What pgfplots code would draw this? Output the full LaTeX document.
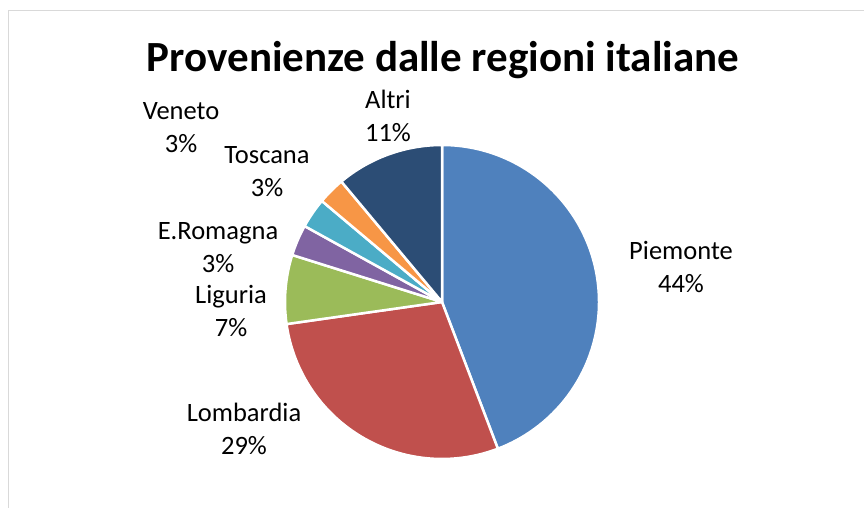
\documentclass[border=0pt]{standalone}
\usepackage{pgfplots}
\pgfplotsset{compat=1.18}
\usepackage{pgfplotstable}
\usepackage{fontspec}
\setmainfont{Carlito}
\definecolor{cPiemonte}{HTML}{4F81BD}
\definecolor{cLombardia}{HTML}{C0504D}
\definecolor{cLiguria}{HTML}{9BBB59}
\definecolor{cRomagna}{HTML}{8064A2}
\definecolor{cToscana}{HTML}{4BACC6}
\definecolor{cVeneto}{HTML}{F79646}
\definecolor{cAltri}{HTML}{2C4D75}
\definecolor{cBorder}{HTML}{D9D9D9}
\tikzset{lbl/.style={align=center,font=\fontsize{26.5}{33}\selectfont,text=black}}
% value = share; lx, ly = label position in pixels
\pgfplotstableread{
name value col lx ly
Piemonte 44.3 cPiemonte 681 267
Lombardia 28.6 cLombardia 244 429
Liguria 7.1 cLiguria 231 311
E.Romagna 3.2 cRomagna 218 248
Toscana 3.1 cToscana 267 172
Veneto 2.8 cVeneto 181 128
Altri 11.1 cAltri 388 116
}\pietable
\begin{document}
\begin{tikzpicture}
\useasboundingbox (0,0) rectangle (864pt,507pt);
\fill[white] (0,0) rectangle (864pt,507pt);
\draw[cBorder,line width=1pt] (8pt,-10pt) -- (8pt,496pt) -- (880pt,496pt);
\node[font=\fontsize{43}{50}\selectfont\bfseries,anchor=base] at (443pt,435pt) {Provenienze dalle regioni italiane};
% build the pie code
\pgfplotstablegetrowsof{\pietable}
\pgfmathtruncatemacro\nrows{\pgfplotsretval-1}
\gdef\pietotal{0}
\foreach \i in {0,...,\nrows}{%
  \pgfplotstablegetelem{\i}{value}\of\pietable
  \pgfmathsetmacro\t{\pietotal+\pgfplotsretval}%
  \xdef\pietotal{\t}%
}
\gdef\cumangle{90}
\gdef\piecode{}
\gdef\labelcode{}
\foreach \i in {0,...,\nrows}{%
  \pgfplotstablegetelem{\i}{value}\of\pietable \let\v\pgfplotsretval
  \pgfplotstablegetelem{\i}{col}\of\pietable \let\c\pgfplotsretval
  \pgfplotstablegetelem{\i}{name}\of\pietable \let\n\pgfplotsretval
  \pgfplotstablegetelem{\i}{lx}\of\pietable \let\lx\pgfplotsretval
  \pgfplotstablegetelem{\i}{ly}\of\pietable \let\ly\pgfplotsretval
  \pgfmathsetmacro\ea{\cumangle-360*\v/\pietotal}%
  \pgfmathsetmacro\pct{100*\v/\pietotal}%
  \pgfmathtruncatemacro\pcttxt{round(\pct)}%
  \pgfmathsetmacro\lyy{507-\ly}%
  \xdef\piecode{\unexpanded\expandafter{\piecode}%
    \noexpand\filldraw[fill=\c,draw=white,line width=2.5pt,line join=round]
    (axis cs:442,205) -- ++(\cumangle:157pt) arc[start angle=\cumangle,end angle=\ea,radius=157pt] -- cycle;}%
  \xdef\labelcode{\unexpanded\expandafter{\labelcode}%
    \noexpand\node[lbl] at (axis cs:\lx,\lyy) {\n\noexpand\\\pcttxt\noexpand\%};}%
  \xdef\cumangle{\ea}%
}
\begin{axis}[at={(0,0)},anchor=south west,x=1pt,y=1pt,
  xmin=0,xmax=864,ymin=0,ymax=507,hide axis,clip=false]
\piecode
\labelcode
\end{axis}
\end{tikzpicture}
\end{document}
